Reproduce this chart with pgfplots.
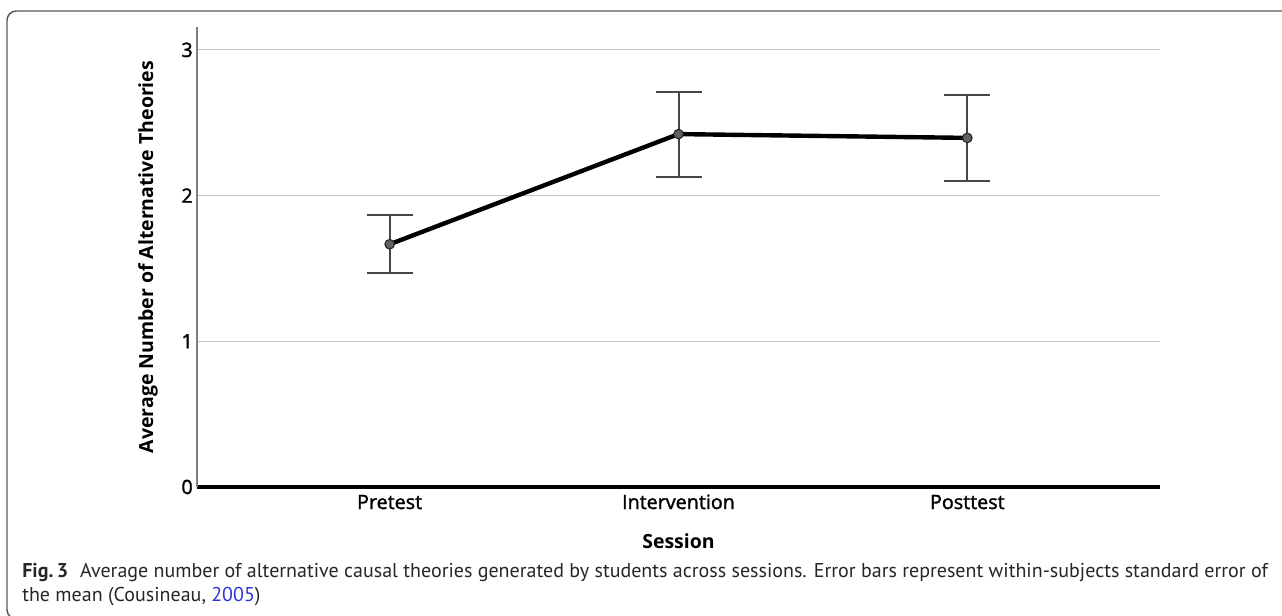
\documentclass[border=0pt]{standalone}
\usepackage{fontspec}
\setmainfont{Open Sans}
\newfontfamily\semib[FakeBold=1.6]{Open Sans}
\newfontfamily\capfont{PT Sans}
\usepackage{pgfplots}
\pgfplotsset{compat=1.18}
\definecolor{linkblue}{RGB}{45,55,215}
\definecolor{framegray}{RGB}{90,90,90}
\definecolor{errgray}{RGB}{70,70,70}
\begin{document}
\begin{tikzpicture}
\useasboundingbox (0,0) rectangle (961.5pt,461.25pt);
\begin{scope}
\clip (0,0) rectangle (961.5pt,461.25pt);
\draw[framegray, line width=1.1pt, rounded corners=7pt] (5.25pt,-3pt) rectangle (990pt,453pt);
\end{scope}
\begin{axis}[
  at={(147.75pt,96pt)}, anchor=south west,
  scale only axis, width=722.25pt, height=345pt,
  xmin=-0.667, xmax=2.667, ymin=0, ymax=3.157,
  axis x line*=bottom, axis y line*=left,
  x axis line style={black, line width=2.4pt},
  y axis line style={gray, line width=1.1pt},
  xtick={0,1,2}, xticklabels={Pretest,Intervention,Posttest},
  ytick={0,1,2,3}, yticklabels={0,1,2,3},
  major tick length=0pt,
  ymajorgrids, grid style={gray!45, line width=0.8pt},
  tick label style={font=\semib\fontsize{14.8}{17}\selectfont, text=black},
  xticklabel style={anchor=base, yshift=-16.5pt},
  yticklabel style={anchor=east, inner sep=0pt, xshift=-3pt},
  xlabel={Session}, ylabel={Average Number of Alternative Theories},
  label style={font=\fontsize{14.6}{17}\selectfont\bfseries},
  xlabel style={at={(axis description cs:0.5,-0.117)}, anchor=center},
  ylabel style={at={(axis description cs:-0.0509,0.5)}, anchor=center},
]
\addplot[black, line width=3.3pt, mark=*, mark size=3.6pt,
  mark options={fill=gray!75!black, draw=black!85, line width=0.8pt},
  error bars/.cd, y dir=both, y explicit,
  error bar style={line width=1.5pt, errgray},
  error mark options={line width=1.5pt, errgray, mark size=17.25pt, rotate=90}]
  coordinates {(0,1.666) +- (0,0.199) (1,2.422) +- (0,0.292) (2,2.396) +- (0,0.294)};
\end{axis}
\node[anchor=base west, inner sep=0pt, text=black!85, font=\capfont\fontsize{15}{18}\selectfont] at (16.5pt,28.5pt)
  {\textbf{Fig.\,3}\hspace{0.6em}Average number of alternative causal theories generated by students across sessions. Error bars represent within-subjects standard error of};
\node[anchor=base west, inner sep=0pt, text=black!85, font=\capfont\fontsize{15}{18}\selectfont] at (16.5pt,10.5pt)
  {the mean (Cousineau, {\color{linkblue}2005})};
\end{tikzpicture}
\end{document}
